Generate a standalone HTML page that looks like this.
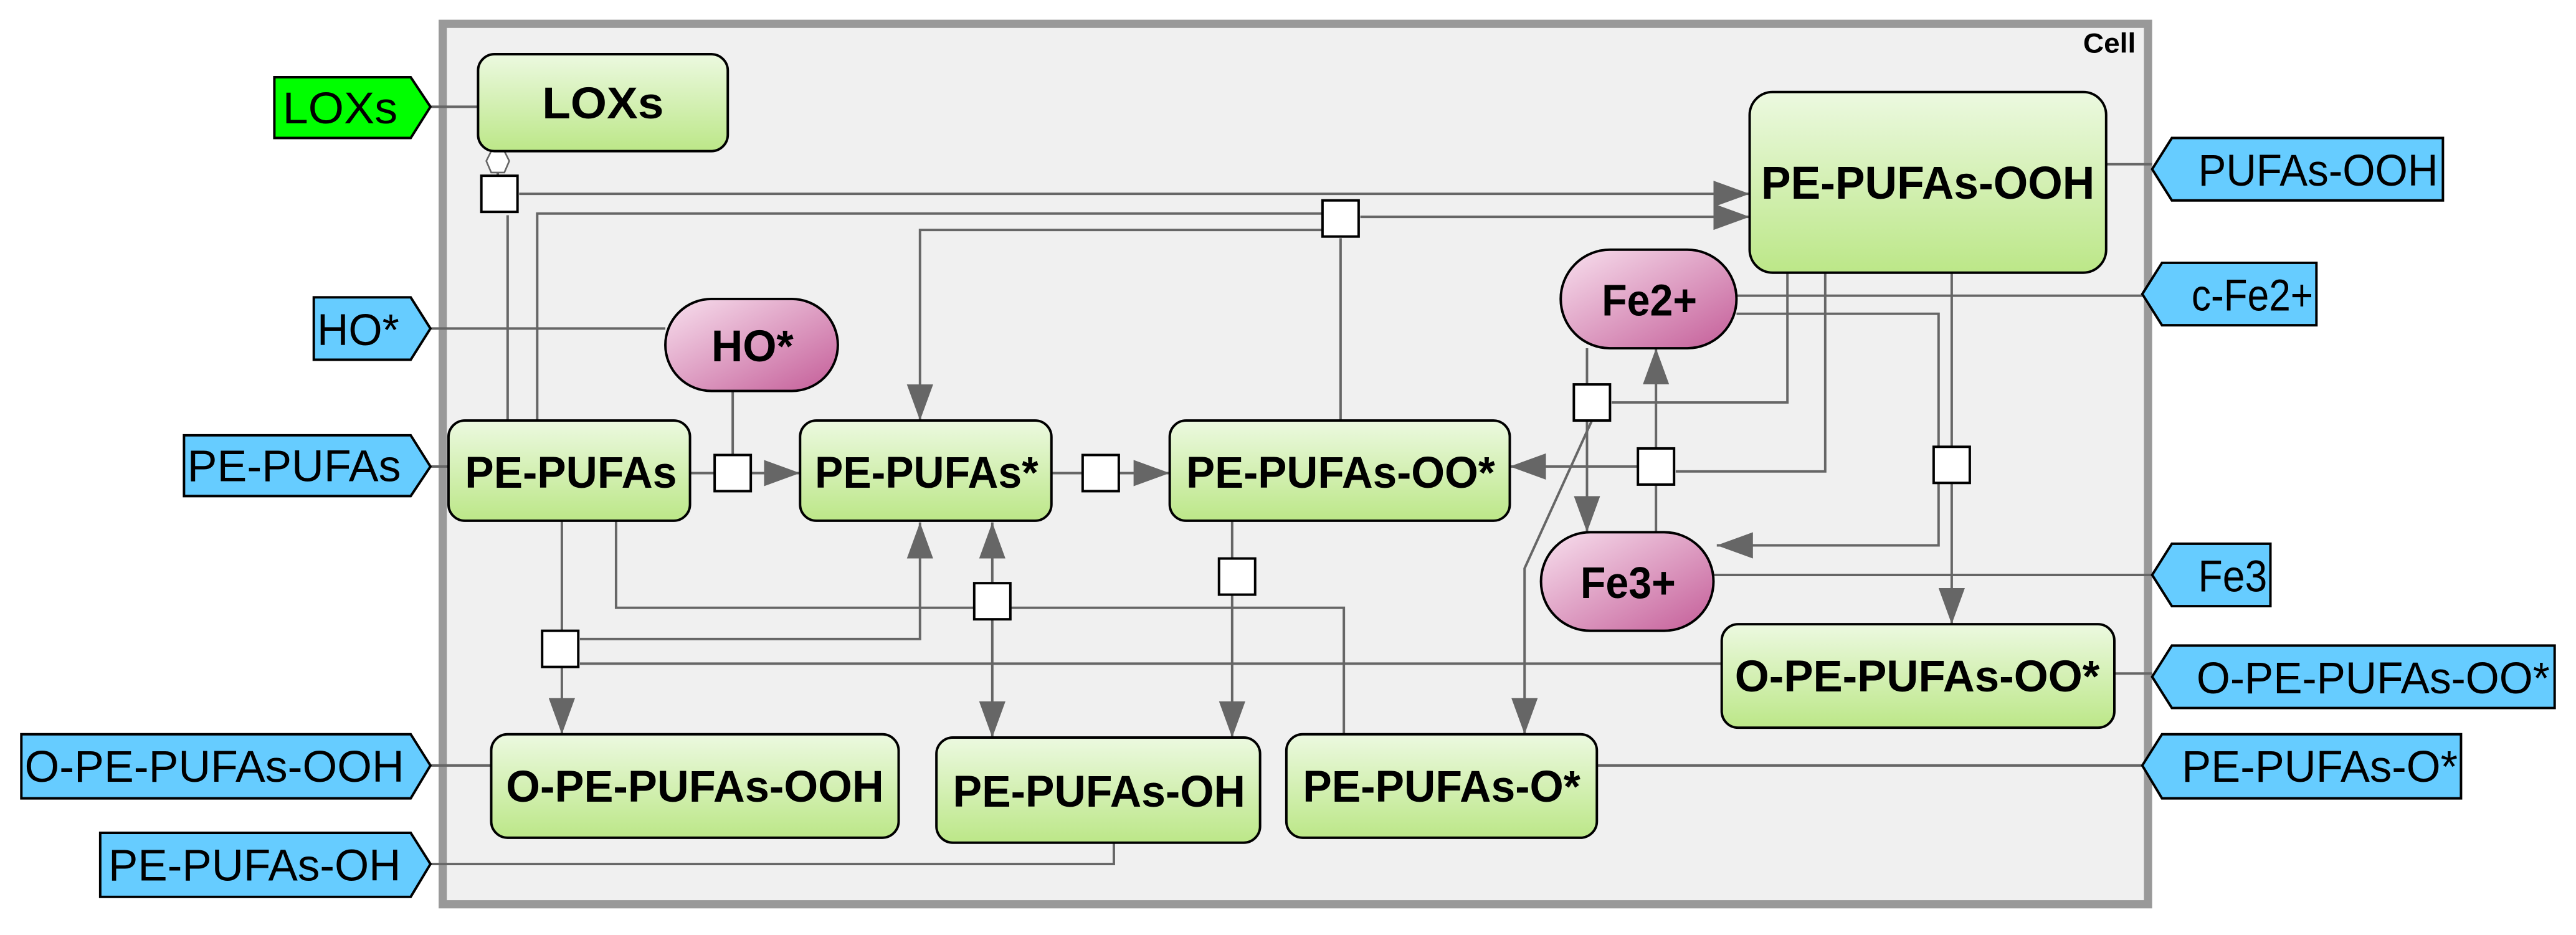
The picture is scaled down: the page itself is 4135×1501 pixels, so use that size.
<!DOCTYPE html>
<html><head><meta charset="utf-8"><style>html,body{margin:0;padding:0;background:#fff}svg{display:block}</style></head>
<body>
<svg width="4135" height="1501" viewBox="0 0 1568 569.2" preserveAspectRatio="none" xmlns="http://www.w3.org/2000/svg" font-family="Liberation Sans, Arial, sans-serif">
<defs>
<linearGradient id="g" x1="0" y1="0" x2="0" y2="1"><stop offset="0" stop-color="#ecf9e0"/><stop offset="1" stop-color="#bce788"/></linearGradient>
<linearGradient id="p" x1="0" y1="0" x2="1" y2="1"><stop offset="0" stop-color="#f8e0ee"/><stop offset="1" stop-color="#c45d98"/></linearGradient>
<marker id="a" viewBox="0 0 22 16" refX="22" refY="8" markerWidth="22" markerHeight="16" markerUnits="userSpaceOnUse" orient="auto"><path d="M0,0 L22,8 L0,16 Z" fill="#666"/></marker>
</defs>
<rect x="269.5" y="14.5" width="1038" height="536" fill="#f0f0f0" stroke="#999" stroke-width="5"/>
<text x="1300" y="32" font-size="17" font-weight="bold" text-anchor="end" textLength="32" lengthAdjust="spacingAndGlyphs">Cell</text>

<g stroke="#666" stroke-width="1.5" fill="none">
<line x1="262" y1="65" x2="291" y2="65"/>
<line x1="262" y1="200" x2="405" y2="200"/>
<line x1="262" y1="284" x2="273" y2="284"/>
<line x1="262" y1="466" x2="299" y2="466"/>
<polyline points="262,526 678,526 678,513"/>
<line x1="1282" y1="100" x2="1310" y2="100"/>
<line x1="1057" y1="180" x2="1304" y2="180"/>
<line x1="1043" y1="350" x2="1310" y2="350"/>
<line x1="1287" y1="410" x2="1310" y2="410"/>
<line x1="972" y1="466" x2="1304" y2="466"/>
<line x1="309" y1="256" x2="309" y2="131"/>
<line x1="316" y1="118" x2="1065" y2="118" marker-end="url(#a)"/>
<line x1="303" y1="104" x2="303" y2="107"/>
<polyline points="327,256 327,130 805,130"/>
<polyline points="805,140 560,140 560,256" marker-end="url(#a)"/>
<line x1="828" y1="132" x2="1065" y2="132" marker-end="url(#a)"/>
<line x1="816" y1="145" x2="816" y2="256"/>
<line x1="446" y1="238" x2="446" y2="277"/>
<line x1="420" y1="288" x2="435" y2="288"/>
<line x1="457" y1="288" x2="487" y2="288" marker-end="url(#a)"/>
<line x1="640" y1="288" x2="659" y2="288"/>
<line x1="681" y1="288" x2="712" y2="288" marker-end="url(#a)"/>
<line x1="750" y1="317" x2="750" y2="340"/>
<line x1="750" y1="362" x2="750" y2="449" marker-end="url(#a)"/>
<line x1="342" y1="317" x2="342" y2="384"/>
<line x1="342" y1="406" x2="342" y2="447" marker-end="url(#a)"/>
<polyline points="353,389 560,389 560,318" marker-end="url(#a)"/>
<line x1="353" y1="404" x2="1048" y2="404"/>
<polyline points="375,317 375,370 593,370"/>
<polyline points="615,370 818,370 818,447"/>
<line x1="604" y1="355" x2="604" y2="318" marker-end="url(#a)"/>
<line x1="604" y1="377" x2="604" y2="449" marker-end="url(#a)"/>
<line x1="966" y1="212" x2="966" y2="234"/>
<line x1="966" y1="256" x2="966" y2="324" marker-end="url(#a)"/>
<polyline points="981,245 1088,245 1088,166"/>
<polyline points="969,256 928,346 928,447" marker-end="url(#a)"/>
<line x1="1008" y1="273" x2="1008" y2="212" marker-end="url(#a)"/>
<line x1="1008" y1="295" x2="1008" y2="324"/>
<line x1="997" y1="284" x2="919" y2="284" marker-end="url(#a)"/>
<polyline points="1020,287 1111,287 1111,166"/>
<polyline points="1057,191 1180,191 1180,332 1045,332" marker-end="url(#a)"/>
<line x1="1188" y1="166" x2="1188" y2="272"/>
<line x1="1188" y1="294" x2="1188" y2="380" marker-end="url(#a)"/>
</g>

<g fill="#fff" stroke="#000" stroke-width="1.5">
<rect x="293" y="107" width="22" height="22"/>
<rect x="805" y="122" width="22" height="22"/>
<rect x="435" y="277" width="22" height="22"/>
<rect x="659" y="277" width="22" height="22"/>
<rect x="958" y="234" width="22" height="22"/>
<rect x="997" y="273" width="22" height="22"/>
<rect x="1177" y="272" width="22" height="22"/>
<rect x="742" y="340" width="22" height="22"/>
<rect x="593" y="355" width="22" height="22"/>
<rect x="330" y="384" width="22" height="22"/>
</g>
<path d="M299,92 L307,92 L310,98 L307,105 L299,105 L296,98 Z" fill="#fff" stroke="#666" stroke-width="1"/>

<g fill="url(#g)" stroke="#000" stroke-width="1.5">
<rect x="291" y="33" width="152" height="59" rx="10"/>
<rect x="1065" y="56" width="217" height="110" rx="14"/>
<rect x="273" y="256" width="147" height="61" rx="10"/>
<rect x="487" y="256" width="153" height="61" rx="10"/>
<rect x="712" y="256" width="207" height="61" rx="10"/>
<rect x="299" y="447" width="248" height="63" rx="10"/>
<rect x="570" y="449" width="197" height="64" rx="10"/>
<rect x="783" y="447" width="189" height="63" rx="10"/>
<rect x="1048" y="380" width="239" height="63" rx="10"/>
</g>
<g fill="url(#p)" stroke="#000" stroke-width="1.5">
<rect x="405" y="182" width="105" height="56" rx="28"/>
<rect x="950" y="152" width="107" height="60" rx="30"/>
<rect x="938" y="324" width="105" height="60" rx="30"/>
</g>

<g stroke="#000" stroke-width="1.5">
<path d="M167,47 H250 L262,65 L250,84 H167 Z" fill="#00ff00"/>
<path d="M191,181 H250 L262,200 L250,219 H191 Z" fill="#66ccff"/>
<path d="M112,265 H250 L262,284 L250,302 H112 Z" fill="#66ccff"/>
<path d="M13,447 H250 L262,466 L250,486 H13 Z" fill="#66ccff"/>
<path d="M61,507 H250 L262,526 L250,546 H61 Z" fill="#66ccff"/>
<path d="M1487,84 H1322 L1310,103 L1322,122 H1487 Z" fill="#66ccff"/>
<path d="M1410,160 H1316 L1304,179 L1316,198 H1410 Z" fill="#66ccff"/>
<path d="M1382,331 H1322 L1310,350 L1322,369 H1382 Z" fill="#66ccff"/>
<path d="M1555,393 H1322 L1310,412 L1322,431 H1555 Z" fill="#66ccff"/>
<path d="M1498,447 H1316 L1304,466 L1316,486 H1498 Z" fill="#66ccff"/>
</g>

<g font-size="27" fill="#000">
<text x="172" y="75" textLength="70" lengthAdjust="spacingAndGlyphs">LOXs</text>
<text x="193" y="210" textLength="50" lengthAdjust="spacingAndGlyphs">HO*</text>
<text x="114" y="293" textLength="130" lengthAdjust="spacingAndGlyphs">PE-PUFAs</text>
<text x="15" y="476" textLength="231" lengthAdjust="spacingAndGlyphs">O-PE-PUFAs-OOH</text>
<text x="66" y="536" textLength="178" lengthAdjust="spacingAndGlyphs">PE-PUFAs-OH</text>
<text x="1338" y="113" textLength="146" lengthAdjust="spacingAndGlyphs">PUFAs-OOH</text>
<text x="1334" y="189" textLength="74" lengthAdjust="spacingAndGlyphs">c-Fe2+</text>
<text x="1338" y="360" textLength="42" lengthAdjust="spacingAndGlyphs">Fe3</text>
<text x="1337" y="422" textLength="215" lengthAdjust="spacingAndGlyphs">O-PE-PUFAs-OO*</text>
<text x="1328" y="476" textLength="168" lengthAdjust="spacingAndGlyphs">PE-PUFAs-O*</text>
</g>
<g font-size="27" font-weight="bold" fill="#000">
<text x="330" y="72" textLength="74" lengthAdjust="spacingAndGlyphs">LOXs</text>
<text x="1072" y="121" textLength="203" lengthAdjust="spacingAndGlyphs" font-size="28">PE-PUFAs-OOH</text>
<text x="283" y="297" textLength="129" lengthAdjust="spacingAndGlyphs">PE-PUFAs</text>
<text x="496" y="297" textLength="136" lengthAdjust="spacingAndGlyphs">PE-PUFAs*</text>
<text x="722" y="297" textLength="188" lengthAdjust="spacingAndGlyphs">PE-PUFAs-OO*</text>
<text x="308" y="488" textLength="230" lengthAdjust="spacingAndGlyphs">O-PE-PUFAs-OOH</text>
<text x="580" y="491" textLength="178" lengthAdjust="spacingAndGlyphs">PE-PUFAs-OH</text>
<text x="793" y="488" textLength="169" lengthAdjust="spacingAndGlyphs">PE-PUFAs-O*</text>
<text x="1056" y="421" textLength="222" lengthAdjust="spacingAndGlyphs">O-PE-PUFAs-OO*</text>
<text x="433" y="220" textLength="50" lengthAdjust="spacingAndGlyphs">HO*</text>
<text x="975" y="192" textLength="58" lengthAdjust="spacingAndGlyphs">Fe2+</text>
<text x="962" y="364" textLength="58" lengthAdjust="spacingAndGlyphs">Fe3+</text>
</g>
</svg>
</body></html>
